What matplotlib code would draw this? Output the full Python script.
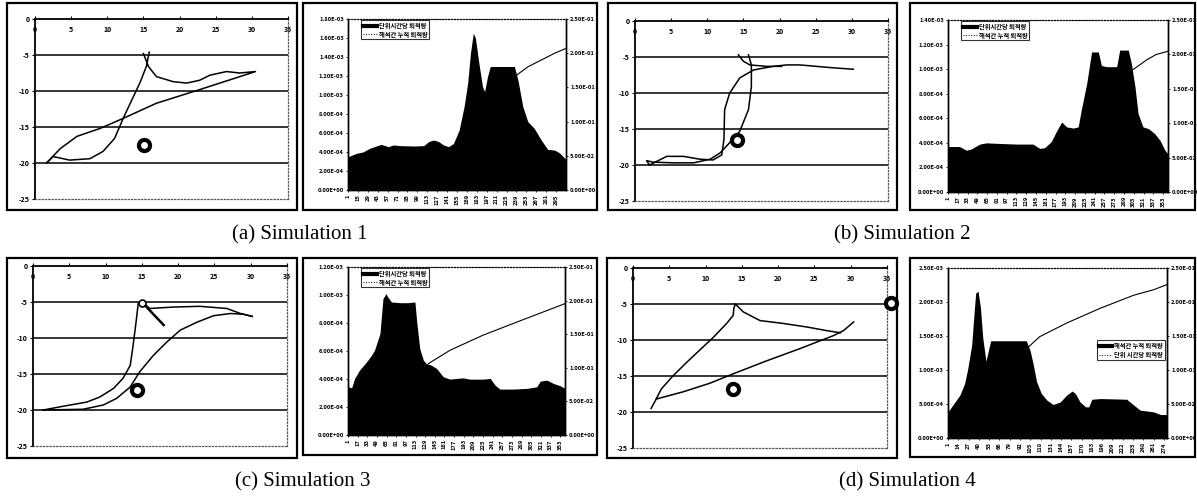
# ------------------------------------------------------------------------------------
# -------------------- sediment simulations 1-4 : track + deposition -----------------
# ------------------------------------------------------------------------------------

# 1. libraries -----------------------------------------------------------------------/
import matplotlib
matplotlib.use("Agg")
import matplotlib.pyplot as plt
from matplotlib.patches import Rectangle
from matplotlib.lines import Line2D
from matplotlib.ticker import FuncFormatter
import numpy as np

plt.rcParams['font.family'] = ['Noto Sans CJK KR', 'DejaVu Sans']
plt.rcParams['axes.unicode_minus'] = False

W, H = 1197, 498

# 2. data ----------------------------------------------------------------------------/
# a) track of each simulation (x, y), one list per branch
sim1_x = [[15, 15.7, 16.8, 19.1, 21, 22.8, 24.2, 26.5, 28.3, 30.5, 22.8, 16.8, 12.2, 9, 5.8, 3.5, 1.6,
           2.5, 4.8, 7.6, 9.4, 11, 12.2, 13.6, 14.5, 15.4, 15.8]]
sim1_y = [[-4.8, -6.6, -8, -8.7, -8.9, -8.5, -7.8, -7.3, -7.5, -7.3, -9.8, -11.7, -13.8, -15.2, -16.3, -18, -20,
           -19.1, -19.6, -19.4, -18.4, -16.6, -13.8, -10.8, -8.9, -6.6, -4.6]]

sim2_x = [[2, 4.4, 6.7, 9, 10.8, 12, 12.3, 12.4, 13.1, 14.5, 16.4, 19.1, 21, 22.8, 25.1, 27.4, 30.2],
          [14.3, 15, 15.9, 18.2, 20.3],
          [15.7, 16.1, 16.1, 15.7, 14.5, 13.1, 11.8, 10.4, 8.1, 5.3, 2.5, 1.6, 2]]
sim2_y = [[-20, -18.8, -18.8, -19.2, -19.3, -18.6, -16.5, -12.3, -10, -7.9, -6.8, -6.3, -6.1, -6.1, -6.3, -6.5, -6.7],
          [-4.7, -5.6, -6.1, -6.3, -6.3],
          [-4.7, -6.1, -9.1, -12.3, -15.3, -16.9, -18.3, -19.2, -19.7, -19.7, -19.6, -19.4, -20]]

sim3_x = [[1.4, 4.6, 7.4, 9.2, 11.1, 12.4, 13.4, 13.8, 14.2, 14.5, 15, 16.1, 19.4, 23, 26.7, 28.6, 30.2],
          [1.4, 6.9, 9.7, 11.5, 13.4, 14.7, 16.6, 18.4, 20.3, 22.6, 24.9, 27.2, 29, 30.2],
          [15, 18]]
sim3_y = [[-20, -19.4, -18.9, -18.2, -17, -15.6, -13.8, -11, -7.8, -5.2, -5, -5.9, -5.7, -5.6, -5.9, -6.6, -7],
          [-20, -19.9, -19.3, -18.4, -16.8, -14.7, -12.4, -10.6, -8.9, -7.8, -6.9, -6.6, -6.7, -7],
          [-5, -8.2]]

sim4_x = [[2.5, 3.2, 3.9, 5.5, 7.4, 9.2, 11.1, 12.9, 13.8, 13.9, 14.1, 15.2, 17.5, 20.7, 24, 26.7, 28.6],
          [3.2, 6.9, 10.6, 13.8, 18.4, 23, 27.6, 29, 30.4]]
sim4_y = [[-19.5, -18.2, -16.8, -15, -13.1, -11.4, -9.6, -7.7, -6.6, -5.6, -5, -6.1, -7.3, -7.7, -8.2, -8.7, -9],
          [-18.2, -17.2, -16, -14.7, -12.9, -11.2, -9.4, -8.7, -7.5]]

# ring markers (x, y)
rings1 = [(15.1, -17.5)]
rings2 = [(14.1, -16.5)]
rings3 = [(14.3, -17.2)]
rings4 = [(13.8, -16.8), (35.5, -4.8)]
hollow3 = [(15, -5.2)]

# b) deposition per unit time (x1e-4) and cumulative deposition
idx_a = [1, 13, 22, 32, 41, 48, 58, 65, 75, 94, 108, 115, 122, 129, 136, 143, 150, 158, 165, 170, 174, 178,
         181, 186, 191, 194, 198, 202, 236, 241, 248, 255, 264, 274, 283, 293, 300, 309]
rate_a = [3.5, 3.86, 4.0, 4.4, 4.63, 4.8, 4.56, 4.74, 4.67, 4.63, 4.67, 5.1, 5.26, 5.1, 4.74, 4.56, 4.9, 6.3,
          8.77, 11.2, 14.4, 16.5, 16.0, 13.3, 10.9, 10.35, 11.9, 13.0, 13.0, 11.6, 8.77, 7.2, 6.5, 5.26, 4.28,
          4.2, 3.9, 3.2]
cum_idx_a = [238, 255, 274, 293, 309]
cum_a = [0.167, 0.180, 0.190, 0.200, 0.207]

idx_b = [1, 20, 31, 39, 53, 64, 86, 113, 140, 151, 159, 170, 178, 187, 195, 206, 214, 219, 228, 233, 236,
         247, 252, 260, 277, 282, 296, 301, 307, 312, 320, 329, 339, 348, 356, 361]
rate_b = [3.7, 3.7, 3.4, 3.5, 3.9, 4.0, 3.95, 3.9, 3.9, 3.55, 3.6, 4.1, 4.9, 5.7, 5.3, 5.2, 5.3, 6.66, 8.83,
          10.46, 11.4, 11.4, 10.3, 10.2, 10.2, 11.55, 11.55, 10.46, 8.56, 6.39, 5.3, 5.16, 4.76, 4.2, 3.4, 3.1]
cum_idx_b = [304, 326, 342, 361]
cum_b = [0.178, 0.192, 0.200, 0.2045]

idx_c = [1, 7, 12, 20, 31, 40, 45, 54, 59, 64, 67, 73, 87, 100, 112, 115, 120, 126, 131, 139, 148, 159, 170,
         181, 192, 203, 225, 237, 245, 253, 275, 298, 314, 320, 331, 342, 353, 361]
rate_c = [3.44, 3.37, 4.04, 4.63, 5.18, 5.7, 6.06, 7.24, 9.74, 10.1, 9.86, 9.5, 9.45, 9.45, 9.5, 8.08, 6.18,
          5.34, 5.1, 4.99, 4.75, 4.16, 3.99, 4.04, 4.08, 3.99, 3.99, 4.04, 3.56, 3.28, 3.28, 3.33, 3.44, 3.85,
          3.92, 3.68, 3.52, 3.33]
cum_idx_c = [134, 170, 225, 281, 361]
cum_c = [0.106, 0.126, 0.1485, 0.168, 0.1955]

idx_d = [1, 7, 16, 22, 26, 31, 34, 36, 39, 42, 45, 49, 52, 55, 58, 100, 105, 109, 113, 119, 126, 134, 143,
         151, 158, 162, 168, 175, 179, 183, 194, 227, 236, 244, 261, 270, 278]
rate_d = [3.84, 4.83, 6.3, 8.0, 10.2, 13.7, 18.4, 21.3, 21.6, 19.2, 14.7, 11.3, 12.8, 14.3, 14.3, 14.3, 12.8,
          10.7, 8.3, 6.55, 5.57, 4.93, 5.3, 6.3, 6.9, 6.55, 5.3, 4.58, 4.58, 5.7, 5.8, 5.7, 4.83, 4.1, 3.84,
          3.45, 3.45]
cum_idx_d = [102, 117, 151, 194, 236, 261, 278]
cum_d = [0.133, 0.149, 0.169, 0.191, 0.21, 0.218, 0.2256]

# c) tick labels and texts
ticks_a = list(range(1, 296, 14))
ticks_b = list(range(1, 354, 16))
ticks_c = list(range(1, 354, 16))
ticks_d = list(range(1, 275, 13))
rate_name = "단위시간당 퇴적량"
cum_name = "해석간 누적 퇴적량"
captions = ["(a) Simulation 1", "(b) Simulation 2", "(c) Simulation 3", "(d) Simulation 4"]


# 3. function definition -------------------------------------------------------------/
def px_axes(fig, x0, y0, x1, y1):
    # axes from pixel box (top-left origin)
    return fig.add_axes([x0 / W, 1 - y1 / H, (x1 - x0) / W, (y1 - y0) / H])


def frame(fig, x0, y0, x1, y1):
    fig.patches.append(Rectangle((x0 / W, 1 - y1 / H), (x1 - x0) / W, (y1 - y0) / H,
                                 transform=fig.transFigure, fill=False, lw=1.6, ec='black'))


def track_plot(ax, xs, ys, rings, hollow=()):
    for bx, by in zip(xs, ys):
        lw = 1.8 if (len(bx) == 2) else 1.1
        ax.plot(bx, by, color='black', lw=lw, zorder=3)
    for y in [-5, -10, -15, -20]:
        ax.axhline(y, color='black', lw=1.1, zorder=1)
    for rx, ry in rings:
        ax.plot(rx, ry, 'o', ms=8, mfc='white', mec='black', mew=3, clip_on=False, zorder=5)
    for hx, hy in hollow:
        ax.plot(hx, hy, 'o', ms=5, mfc='white', mec='black', mew=1.2, zorder=5)
    ax.set_xlim(0, 35)
    ax.set_ylim(-25, 0)
    ax.set_xticks(range(0, 36, 5))
    ax.set_yticks(range(-25, 1, 5))
    ax.tick_params(axis='x', top=True, bottom=False, labeltop=True, labelbottom=False,
                   length=2, width=0.8, pad=-12, labelsize=5)
    ax.tick_params(axis='y', length=2, width=0.8, pad=2, labelsize=5)
    for lab in ax.get_xticklabels() + ax.get_yticklabels():
        lab.set_fontweight('bold')
    ax.spines['top'].set_linewidth(1.3)
    ax.spines['left'].set_linewidth(1.3)
    for s in ['right', 'bottom']:
        ax.spines[s].set_linestyle(':')
        ax.spines[s].set_linewidth(0.9)
        ax.spines[s].set_color('0.35')


def area_plot(ax, idx, rate, cum_idx, cum, ymax, ystep, ticks, xmax, leg_anchor, leg_loc, names):
    ax2 = ax.twinx()
    ax.set_zorder(ax2.get_zorder() + 1)
    ax.patch.set_visible(False)
    ax.fill_between(idx, np.array(rate) * 1e-4, color='black', lw=0)
    ax2.plot(cum_idx, cum, color='black', lw=0.8)
    ax.set_xlim(1, xmax)
    ax.set_ylim(0, ymax)
    ax2.set_ylim(0, 0.25)
    ax.set_yticks(np.arange(0, ymax + 1e-9, ystep))
    ax2.set_yticks(np.arange(0, 0.25 + 1e-9, 0.05))
    fmt = FuncFormatter(lambda v, p: f"{v:.2E}")
    ax.yaxis.set_major_formatter(fmt)
    ax2.yaxis.set_major_formatter(fmt)
    ax.set_xticks(ticks)
    ax.set_xticklabels([str(t) for t in ticks], rotation=90)
    for a in [ax, ax2]:
        a.tick_params(labelsize=4.2, length=1.5, width=0.6, pad=1.5)
        for lab in a.get_xticklabels() + a.get_yticklabels():
            lab.set_fontweight('bold')
        a.spines['top'].set_linestyle(':')
        a.spines['top'].set_linewidth(0.8)
        for s in ['left', 'bottom', 'right']:
            a.spines[s].set_linewidth(1.0)
    handles = [Line2D([0], [0], color='black', lw=3), Line2D([0], [0], color='black', lw=0.7, ls=':')]
    leg = ax.legend(handles, names, loc=leg_loc, bbox_to_anchor=leg_anchor, fontsize=4.5,
                    frameon=True, fancybox=False, edgecolor='black', handlelength=2.2,
                    borderpad=0.3, labelspacing=0.3, handletextpad=0.3, borderaxespad=0)
    leg.get_frame().set_linewidth(0.8)
    for t in leg.get_texts():
        t.set_fontweight('bold')


# 4. figure --------------------------------------------------------------------------/
fig = plt.figure(figsize=(W / 100, H / 100), dpi=100)

for box in [(7, 3, 297, 210), (303, 3, 597, 210), (608, 3, 897, 210), (910, 3, 1195, 210),
            (7, 258, 297, 458), (303, 258, 597, 455), (607, 258, 897, 458), (910, 258, 1195, 457)]:
    frame(fig, *box)

track_plot(px_axes(fig, 35, 19, 288, 199), sim1_x, sim1_y, rings1)
track_plot(px_axes(fig, 635, 21, 888, 201), sim2_x, sim2_y, rings2)
track_plot(px_axes(fig, 33, 266, 287, 446), sim3_x, sim3_y, rings3, hollow3)
track_plot(px_axes(fig, 633, 268, 887, 448), sim4_x, sim4_y, rings4)

area_plot(px_axes(fig, 348, 19, 566, 190), idx_a, rate_a, cum_idx_a, cum_a, 1.8e-3, 2e-4, ticks_a, 309,
          (0.06, 0.995), 'upper left', [rate_name, cum_name])
area_plot(px_axes(fig, 948, 20, 1168, 192), idx_b, rate_b, cum_idx_b, cum_b, 1.4e-3, 2e-4, ticks_b, 361,
          (0.06, 0.995), 'upper left', [rate_name, cum_name])
area_plot(px_axes(fig, 348, 267, 565, 435), idx_c, rate_c, cum_idx_c, cum_c, 1.2e-3, 2e-4, ticks_c, 361,
          (0.06, 0.995), 'upper left', [rate_name, cum_name])
area_plot(px_axes(fig, 948, 268, 1167, 438), idx_d, rate_d, cum_idx_d, cum_d, 2.5e-3, 5e-4, ticks_d, 278,
          (0.99, 0.575), 'upper right', [cum_name, "단위 시간당 퇴적량"])

# captions
for (cx, cy), txt in zip([(300, 235), (902, 235), (303, 482), (907, 482)], captions):
    fig.text(cx / W, 1 - cy / H, txt, ha='center', va='center', fontsize=15, family='Liberation Serif')

plt.savefig("out.png", dpi=100)
